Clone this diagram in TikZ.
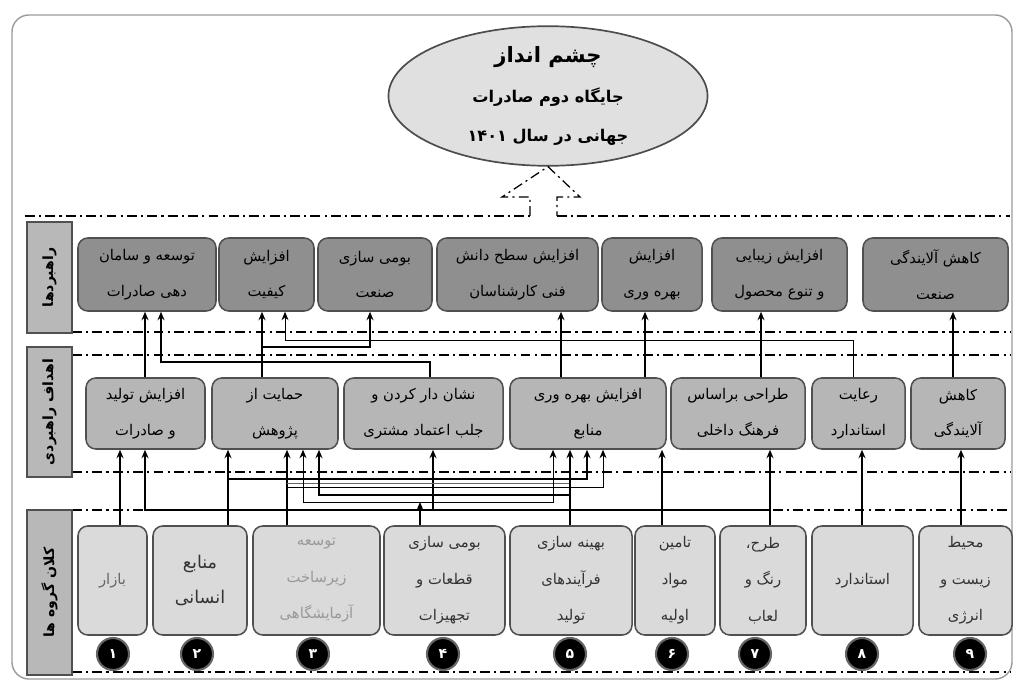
\documentclass[tikz,border=0pt]{standalone}
\usepackage{fontspec}
\usepackage{tikz}
\usepackage{xcolor}
\usetikzlibrary{arrows.meta,shapes.geometric}
\TeXXeTstate=1
\newfontfamily\arabicfont[Script=Arabic]{DejaVu Sans}
\newcommand{\fa}[1]{\beginR #1\endR}
\definecolor{stratgray}{RGB}{143,143,143}
\definecolor{goalgray}{RGB}{182,182,182}
\definecolor{groupgray}{RGB}{218,218,218}
\definecolor{sidegray}{RGB}{184,184,184}
\definecolor{edgegray}{RGB}{80,80,80}
\definecolor{framegray}{RGB}{155,155,155}

\begin{document}
\begin{tikzpicture}[x=0.025cm, y=-0.025cm,
    box/.style={rectangle, rounded corners=7pt, draw=edgegray, line width=1.1pt, align=center, inner sep=1pt, font=\arabicfont\fontsize{10.5}{25.5}\selectfont},
    stratbox/.style={box, fill=stratgray, minimum height=1.825cm},
    goalbox/.style={box, fill=goalgray, minimum height=1.775cm},
    groupbox/.style={box, fill=groupgray, minimum height=2.725cm, text=black!80, font=\arabicfont\fontsize{10.5}{26}\selectfont},
    sidebox/.style={rectangle, draw=edgegray, line width=1pt, fill=sidegray, rotate=90, minimum height=1.125cm, font=\arabicfont\bfseries\fontsize{10}{12}\selectfont},
    numdot/.style={circle, fill=black, draw=black!60, line width=1.5pt, minimum size=0.8cm, inner sep=0pt, text=white, font=\arabicfont\bfseries\fontsize{10}{12}\selectfont},
    sepline/.style={line width=1.1pt, dash pattern=on 7pt off 3pt on 1.5pt off 3pt},
    link/.style={line width=1.1pt, -{Stealth[length=6pt, width=5pt]}},
    thinlink/.style={line width=0.6pt, -{Stealth[length=6pt, width=5pt]}},
  ]
  \useasboundingbox (0,0) rectangle (1018,682);
  \draw[framegray, line width=1pt, rounded corners=12pt] (12,15) rectangle (1012,679);

  % Vision
  \node[ellipse, draw=black!70, line width=1.2pt, fill=black!12, minimum width=7.975cm, minimum height=3.35cm, align=center, inner sep=0pt, font=\arabicfont\bfseries\fontsize{11.5}{28}\selectfont] (vision) at (548,96) {{\fontsize{15}{28}\selectfont\fa{چشم انداز}}\\\fa{جایگاه دوم صادرات}\\\fa{جهانی در سال ۱۴۰۱}};

  % separators
  \draw[sepline] (25,216) -- (530,216);
  \draw[sepline] (557,216) -- (1010,216);
  \draw[sepline] (72,332) -- (1010,332);
  \draw[sepline] (72,355) -- (1010,355);
  \draw[sepline] (72,472) -- (1010,472);
  \draw[sepline] (72,510) -- (145,510);
  \draw[sepline] (773,510) -- (1010,510);
  \draw[sepline] (72,672) -- (1010,672);
  \draw[sepline, line width=0.9pt] (530,216) -- (530,197) -- (502,197) -- (vision.south) -- (580,197) -- (557,197) -- (557,216);

  % Side labels
  \node[sidebox, minimum width=2.775cm] (lab1) at (49.5,277.5) {\fa{راهبردها}};
  \node[sidebox, minimum width=3.25cm] (lab2) at (49.5,412) {\fa{اهداف راهبردی}};
  \node[sidebox, minimum width=4.125cm] (lab3) at (49.5,592.5) {\fa{کلان گروه ها}};

  % Strategies
  \node[stratbox, minimum width=3.45cm] (st1) at (147,274.5) {\fa{توسعه و سامان}\\\fa{دهی صادرات}};
  \node[stratbox, minimum width=2.375cm] (st2) at (266.5,274.5) {\fa{افزایش}\\\fa{کیفیت}};
  \node[stratbox, minimum width=2.85cm] (st3) at (375,274.5) {\fa{بومی سازی}\\\fa{صنعت}};
  \node[stratbox, minimum width=4.025cm] (st4) at (517.5,274.5) {\fa{افزایش سطح دانش}\\\fa{فنی کارشناسان}};
  \node[stratbox, minimum width=2.5cm] (st5) at (652,274.5) {\fa{افزایش}\\\fa{بهره وری}};
  \node[stratbox, minimum width=3.375cm] (st6) at (779.5,274.5) {\fa{افزایش زیبایی}\\\fa{و تنوع محصول}};
  \node[stratbox, minimum width=3.625cm] (st7) at (935.5,274.5) {\fa{کاهش آلایندگی}\\\fa{صنعت}};

  % Strategic goals
  \node[goalbox, minimum width=2.975cm] (gl1) at (145.5,413.5) {\fa{افزایش تولید}\\\fa{و صادرات}};
  \node[goalbox, minimum width=3.15cm] (gl2) at (275,413.5) {\fa{حمایت از}\\\fa{پژوهش}};
  \node[goalbox, minimum width=3.975cm] (gl3) at (423.5,413.5) {\fa{نشان دار کردن و}\\\fa{جلب اعتماد مشتری}};
  \node[goalbox, minimum width=3.9cm] (gl4) at (588,413.5) {\fa{افزایش بهره وری}\\\fa{منابع}};
  \node[goalbox, minimum width=3.35cm] (gl5) at (738,413.5) {\fa{طراحی براساس}\\\fa{فرهنگ داخلی}};
  \node[goalbox, minimum width=2.325cm] (gl6) at (858.5,413.5) {\fa{رعایت}\\\fa{استاندارد}};
  \node[goalbox, minimum width=2.35cm] (gl7) at (958,413.5) {\fa{کاهش}\\\fa{آلایندگی}};

  % Macro groups
  \node[groupbox, minimum width=1.725cm, text=black!60] (gr1) at (112.5,580.5) {\fa{بازار}};
  \node[groupbox, minimum width=2.35cm, font=\arabicfont\fontsize{12.5}{25}\selectfont] (gr2) at (200,580.5) {\fa{منابع}\\\fa{انسانی}};
  \node[groupbox, minimum width=3.175cm, text=black!40] (gr3) at (316.5,580.5) {\fa{توسعه}\\\fa{زیرساخت}\\\fa{آزمایشگاهی}};
  \node[groupbox, minimum width=3.025cm] (gr4) at (444.5,580.5) {\fa{بومی سازی}\\\fa{قطعات و}\\\fa{تجهیزات}};
  \node[groupbox, minimum width=3.05cm] (gr5) at (571,580.5) {\fa{بهینه سازی}\\\fa{فرآیندهای}\\\fa{تولید}};
  \node[groupbox, minimum width=2.0cm] (gr6) at (675,580.5) {\fa{تامین}\\\fa{مواد}\\\fa{اولیه}};
  \node[groupbox, minimum width=2.15cm] (gr7) at (763,580.5) {\fa{طرح،}\\\fa{رنگ و}\\\fa{لعاب}};
  \node[groupbox, minimum width=2.525cm] (gr8) at (862.5,580.5) {\fa{استاندارد}};
  \node[groupbox, minimum width=2.325cm] (gr9) at (965.5,580.5) {\fa{محیط}\\\fa{زیست و}\\\fa{انرژی}};

  % Numbers
  \node[numdot] (n1) at (113,654) {\fa{۱}};
  \node[numdot] (n2) at (197,654) {\fa{۲}};
  \node[numdot] (n3) at (313,654) {\fa{۳}};
  \node[numdot] (n4) at (443,654) {\fa{۴}};
  \node[numdot] (n5) at (570,654) {\fa{۵}};
  \node[numdot] (n6) at (672,654) {\fa{۶}};
  \node[numdot] (n7) at (755,654) {\fa{۷}};
  \node[numdot] (n8) at (862,654) {\fa{۸}};
  \node[numdot] (n9) at (970,654) {\fa{۹}};

  % Goals to strategies
  \draw[link] (145,0 |- gl1.north) -- (145,0 |- st1.south);
  \draw[link] (430,0 |- gl3.north) -- (430,362) -- (161,362) -- (161,0 |- st1.south);
  \draw[link] (262,0 |- gl2.north) -- (262,0 |- st2.south);
  \draw[link] (262,347) -- (370,347) -- (370,0 |- st3.south);
  \draw[thinlink] (853,0 |- gl6.north) -- (853,340) -- (285,340) -- (285,0 |- st2.south);
  \draw[link] (561,0 |- gl4.north) -- (561,0 |- st4.south);
  \draw[link] (645,0 |- gl4.north) -- (645,0 |- st5.south);
  \draw[link] (761,0 |- gl5.north) -- (761,0 |- st6.south);
  \draw[link] (953,0 |- gl7.north) -- (953,0 |- st7.south);

  % Groups to goals
  \draw[link] (120,0 |- gr1.north) -- (120,0 |- gl1.south);
  \draw[link] (770,0 |- gr7.north) -- (770,0 |- gl5.south);
  \draw[link] (770,510) -- (145,510) -- (145,0 |- gl1.south);
  \draw[link] (433,510) -- (433,0 |- gl3.south);
  \draw[link] (228,0 |- gr2.north) -- (228,0 |- gl2.south);
  \draw[link] (228,479) -- (587,479) -- (587,0 |- gl4.south);
  \draw[link] (287,0 |- gr3.north) -- (287,0 |- gl2.south);
  \draw[line width=0.6pt, black!60] (287,483) -- (570,483);
  \draw[thinlink] (287,487) -- (603,487) -- (603,0 |- gl4.south);
  \draw[link] (570,495) -- (319,495) -- (319,0 |- gl2.south);
  \draw[link] (570,0 |- gr5.north) -- (570,0 |- gl4.south);
  \draw[link] (420,0 |- gr4.north) -- (420,502);
  \draw[thinlink] (420,502) -- (303,502) -- (303,0 |- gl2.south);
  \draw[thinlink] (420,502) -- (553,502) -- (553,0 |- gl4.south);
  \draw[link] (662,0 |- gr6.north) -- (662,0 |- gl4.south);
  \draw[link] (862,0 |- gr8.north) -- (862,0 |- gl6.south);
  \draw[link] (961,0 |- gr9.north) -- (961,0 |- gl7.south);
\end{tikzpicture}
\end{document}
